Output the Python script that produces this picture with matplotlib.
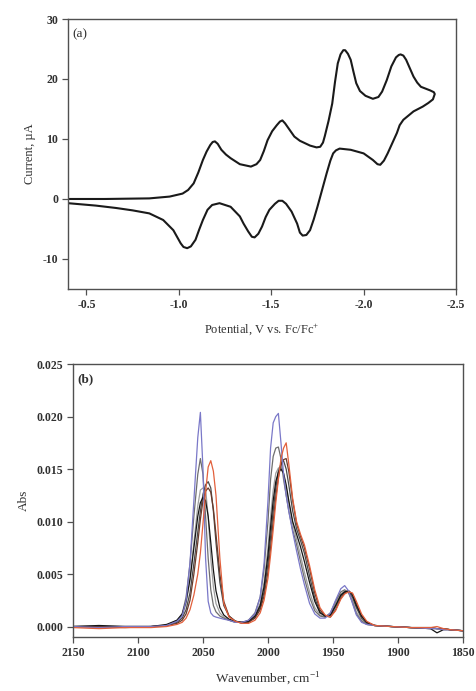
import numpy as np
import matplotlib
matplotlib.use("Agg")
import matplotlib.pyplot as plt

plt.rcParams["font.family"] = ["Liberation Serif", "DejaVu Serif"]
plt.rcParams["mathtext.fontset"] = "custom"
plt.rcParams["mathtext.rm"] = "Liberation Serif"
plt.rcParams["axes.unicode_minus"] = False

# ---- panel (a): cyclic voltammogram (V vs Fc/Fc+, uA), forward then return scan
cv_potential = [-0.40, -0.60, -0.84, -0.95, -1.02, -1.05, -1.08, -1.105, -1.13, -1.15,
                -1.17, -1.183, -1.195, -1.21, -1.23, -1.255, -1.28, -1.33, -1.39, -1.42,
                -1.44, -1.46, -1.48, -1.505, -1.53, -1.547, -1.56, -1.575, -1.60, -1.625,
                -1.655, -1.71, -1.745, -1.765, -1.78, -1.79, -1.81, -1.83, -1.845, -1.86,
                -1.875, -1.89, -1.90, -1.915, -1.93, -1.945, -1.96, -1.98, -2.01, -2.05,
                -2.08, -2.10, -2.125, -2.15, -2.175, -2.19, -2.20, -2.215, -2.23, -2.25,
                -2.27, -2.29, -2.31, -2.36, -2.38, -2.385,
                -2.375, -2.35, -2.32, -2.27, -2.215, -2.195, -2.18, -2.155, -2.13, -2.11,
                -2.09, -2.075, -2.05, -2.00, -1.93, -1.87, -1.85, -1.835, -1.82, -1.80,
                -1.775, -1.75, -1.73, -1.71, -1.69, -1.67, -1.655, -1.64, -1.61, -1.58,
                -1.56, -1.54, -1.52, -1.49, -1.47, -1.45, -1.43, -1.41, -1.395, -1.375,
                -1.35, -1.33, -1.28, -1.22, -1.18, -1.155, -1.13, -1.11, -1.09, -1.065,
                -1.045, -1.025, -1.01, -0.97, -0.915, -0.84, -0.75, -0.66, -0.55, -0.40]
cv_current = [0.0, 0.0, 0.1, 0.4, 0.9, 1.5, 2.6, 4.4, 6.5, 7.9,
              9.0, 9.5, 9.6, 9.2, 8.2, 7.4, 6.8, 5.8, 5.4, 5.8,
              6.5, 8.0, 9.8, 11.3, 12.3, 12.9, 13.1, 12.6, 11.5, 10.4,
              9.7, 8.9, 8.6, 8.7, 9.4, 10.5, 13.0, 15.9, 19.5, 22.6,
              24.1, 24.8, 24.8, 24.2, 23.2, 21.2, 19.3, 18.0, 17.2, 16.7,
              17.0, 17.9, 19.8, 22.1, 23.6, 24.0, 24.1, 23.9, 23.2, 21.8,
              20.4, 19.4, 18.7, 18.1, 17.8, 17.5,
              16.6, 16.0, 15.4, 14.6, 13.2, 12.3, 11.0, 9.3, 7.6, 6.4,
              5.7, 5.8, 6.5, 7.6, 8.2, 8.4, 8.1, 7.6, 6.4, 4.3,
              1.5, -1.3, -3.4, -5.2, -6.0, -6.1, -5.6, -4.1, -2.1, -0.8,
              -0.3, -0.3, -0.8, -1.8, -3.0, -4.6, -5.8, -6.4, -6.3, -5.4,
              -4.1, -2.9, -1.3, -0.7, -1.0, -1.8, -3.5, -5.1, -6.8, -7.9,
              -8.2, -8.0, -7.4, -5.2, -3.5, -2.4, -1.9, -1.5, -1.1, -0.7]

# ---- panel (b): IR spectra (absorbance in mAbs)
wavenumber = [2150, 2130, 2110, 2090, 2078, 2070, 2066, 2063, 2060, 2057,
              2054, 2052, 2050, 2048, 2046, 2044, 2042, 2040, 2037, 2034,
              2030, 2025, 2020, 2015, 2010, 2006, 2003, 2000, 1998, 1996,
              1994, 1992, 1990, 1988, 1986, 1984, 1981, 1978, 1975, 1972,
              1968, 1964, 1960, 1956, 1952, 1948, 1944, 1941, 1938, 1935,
              1932, 1928, 1924, 1918, 1905, 1890, 1875, 1870, 1865, 1860, 1850]

abs_blue = [0.0, -0.1, 0.0, 0.0, 0.1, 0.5, 1.0, 2.5, 6.0, 12.0,
            18.0, 20.4, 15.0, 6.5, 2.4, 1.3, 1.0, 0.9, 0.8, 0.7,
            0.6, 0.4, 0.4, 0.6, 1.2, 2.8, 6.0, 12.0, 17.0, 19.4,
            20.0, 20.3, 17.5, 14.5, 12.5, 11.0, 9.0, 7.2, 5.5, 4.0,
            2.2, 1.2, 0.8, 0.8, 1.3, 2.5, 3.6, 3.9, 3.4, 2.2,
            1.1, 0.4, 0.2, 0.1, 0.0, -0.1, -0.2, -0.2, -0.3, -0.3, -0.4]
abs_gray = [0.0, 0.0, 0.0, 0.0, 0.1, 0.6, 1.2, 2.8, 6.0, 10.5,
            14.5, 16.0, 14.5, 10.5, 6.5, 3.5, 2.0, 1.4, 1.0, 0.8,
            0.6, 0.4, 0.4, 0.6, 1.3, 2.8, 5.5, 10.0, 14.0, 16.2,
            17.0, 17.1, 16.0, 14.0, 12.5, 11.0, 9.2, 7.8, 6.2, 4.6,
            2.8, 1.5, 1.0, 0.9, 1.3, 2.4, 3.3, 3.5, 3.2, 2.3,
            1.2, 0.5, 0.2, 0.1, 0.0, -0.1, -0.2, -0.2, -0.2, -0.3, -0.4]
abs_lightgray = [0.0, 0.0, 0.0, 0.0, 0.1, 0.5, 1.0, 2.2, 4.5, 8.0,
                 11.5, 13.0, 13.2, 13.1, 10.5, 6.5, 3.8, 2.2, 1.3, 0.9,
                 0.6, 0.4, 0.4, 0.5, 1.1, 2.2, 4.2, 7.5, 10.5, 13.0,
                 14.6, 15.1, 15.2, 14.5, 13.2, 11.8, 9.8, 8.3, 6.8, 5.2,
                 3.3, 1.8, 1.1, 0.9, 1.2, 2.2, 3.1, 3.4, 3.3, 2.5,
                 1.4, 0.6, 0.2, 0.1, 0.0, -0.1, -0.1, -0.2, -0.2, -0.3, -0.4]
abs_darkgray = [0.0, 0.0, 0.0, 0.0, 0.1, 0.4, 0.8, 1.6, 3.2, 6.0,
                9.0, 11.0, 12.6, 13.5, 13.8, 13.2, 11.0, 8.0, 4.2, 2.0,
                1.0, 0.5, 0.4, 0.4, 0.9, 1.8, 3.3, 6.0, 8.5, 11.0,
                13.2, 14.8, 15.5, 15.8, 15.0, 13.5, 11.0, 9.3, 8.2, 7.0,
                4.8, 2.7, 1.4, 1.0, 1.0, 1.9, 2.9, 3.3, 3.3, 2.8,
                1.8, 0.8, 0.3, 0.1, 0.0, -0.1, -0.1, -0.2, -0.2, -0.3, -0.4]
abs_black = [0.0, 0.1, 0.0, 0.0, 0.2, 0.6, 1.2, 2.4, 4.5, 7.5,
             10.5, 11.8, 12.3, 12.0, 10.5, 8.0, 5.4, 3.4, 1.8, 1.1,
             0.7, 0.5, 0.4, 0.5, 1.0, 2.0, 3.8, 6.8, 9.5, 12.0,
             13.8, 14.7, 15.0, 14.6, 13.5, 12.0, 10.0, 8.8, 7.6, 6.2,
             4.2, 2.4, 1.3, 1.0, 1.1, 2.0, 3.0, 3.3, 3.4, 3.0,
             2.0, 1.0, 0.4, 0.1, 0.0, -0.1, -0.2, -0.6, -0.3, -0.3, -0.4]
abs_brown = [0.0, 0.0, -0.1, 0.0, 0.1, 0.3, 0.6, 1.2, 2.5, 5.0,
             8.0, 10.2, 12.0, 12.9, 13.2, 12.8, 11.2, 8.8, 5.0, 2.4,
             1.0, 0.5, 0.3, 0.4, 0.8, 1.6, 2.9, 5.2, 7.5, 10.0,
             12.3, 14.2, 15.4, 15.9, 16.0, 14.8, 12.0, 9.8, 8.6, 7.5,
             5.5, 3.2, 1.6, 1.0, 0.9, 1.6, 2.7, 3.2, 3.4, 3.1,
             2.2, 1.0, 0.4, 0.1, 0.0, -0.1, -0.1, -0.2, -0.2, -0.3, -0.4]
abs_red = [-0.1, -0.2, -0.1, -0.1, 0.0, 0.2, 0.4, 0.8, 1.6, 3.0,
           5.0, 7.0, 9.8, 12.8, 15.2, 15.8, 14.8, 12.5, 6.5, 2.2,
           0.9, 0.5, 0.3, 0.3, 0.6, 1.3, 2.5, 4.6, 6.8, 9.2,
           11.8, 14.0, 16.0, 17.0, 17.5, 15.5, 12.2, 10.0, 8.8, 7.8,
           5.8, 3.5, 1.8, 1.1, 0.9, 1.5, 2.6, 3.1, 3.3, 3.2,
           2.4, 1.2, 0.5, 0.1, 0.0, -0.1, -0.1, 0.0, -0.2, -0.3, -0.4]

spectra = [
    (abs_lightgray, "#a0a0a0"),
    (abs_gray, "#6e6e6e"),
    (abs_darkgray, "#4a4a4a"),
    (abs_brown, "#6a3a2a"),
    (abs_black, "#151515"),
    (abs_blue, "#7a78c8"),
    (abs_red, "#e2603c"),
]


def style_axes(ax, size):
    for sp in ax.spines.values():
        sp.set_color("#505050")
        sp.set_linewidth(1.0)
    ax.tick_params(direction="out", length=4, width=0.9, color="#505050",
                   labelsize=size, top=False, right=False, pad=3)
    for lbl in ax.get_xticklabels() + ax.get_yticklabels():
        lbl.set_fontweight("bold")
        lbl.set_color("#303030")


fig = plt.figure(figsize=(4.77, 6.91), dpi=100)

# panel (a)
ax1 = fig.add_axes([0.1426, 0.5818, 0.8134, 0.3907])
ax1.plot(cv_potential, cv_current, color="#1a1a1a", linewidth=1.5,
         solid_joinstyle="round")
ax1.set_xlim(-0.4, -2.5)
ax1.set_ylim(-15, 30)
ax1.set_xticks([-0.5, -1.0, -1.5, -2.0, -2.5])
ax1.set_xticklabels(["-0.5", "-1.0", "-1.5", "-2.0", "-2.5"])
ax1.set_yticks([-10, 0, 10, 20, 30])
style_axes(ax1, 8.5)
ax1.set_ylabel("Current, \u00b5A", fontsize=9, color="#303030", labelpad=5)
ax1.set_xlabel("Potential, V vs. Fc/Fc$^{+}$", fontsize=9, color="#303030", labelpad=8)
ax1.text(0.012, 0.965, "(a)", transform=ax1.transAxes, fontsize=9.5,
         va="top", ha="left", color="#303030")

# panel (b)
ax2 = fig.add_axes([0.153, 0.0781, 0.8176, 0.395])
wn = np.array(wavenumber)
for values, col in spectra:
    ax2.plot(wn, np.array(values) / 1000.0, color=col, linewidth=0.9)
ax2.set_xlim(2150, 1850)
ax2.set_ylim(-0.001, 0.025)
ax2.set_xticks([2150, 2100, 2050, 2000, 1950, 1900, 1850])
ax2.set_yticks([0.0, 0.005, 0.010, 0.015, 0.020, 0.025])
ax2.set_yticklabels(["0.000", "0.005", "0.010", "0.015", "0.020", "0.025"])
style_axes(ax2, 8.5)
ax2.set_ylabel("Abs", fontsize=9.5, color="#303030", labelpad=5)
ax2.set_xlabel("Wavenumber, cm$^{-1}$", fontsize=9.5, color="#303030", labelpad=8)
ax2.text(0.012, 0.965, "(b)", transform=ax2.transAxes, fontsize=9.5,
         fontweight="bold", va="top", ha="left", color="#303030")

fig.savefig("out.png", dpi=100, facecolor="white")
